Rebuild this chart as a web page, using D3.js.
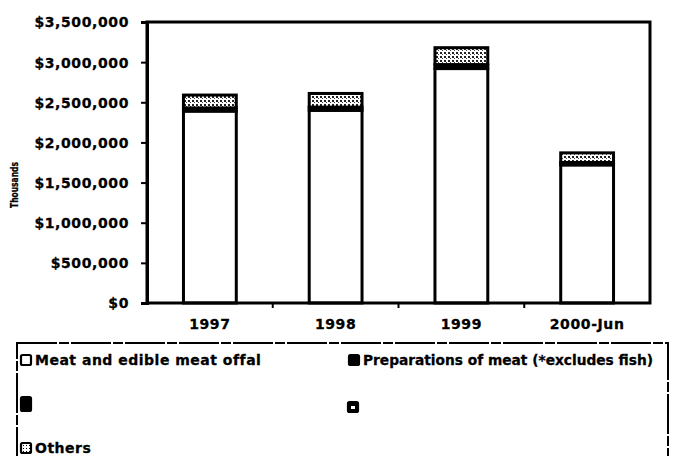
<!DOCTYPE html>
<html>
<head>
<meta charset="utf-8">
<script src="https://cdn.jsdelivr.net/npm/d3@7"></script>
<style>
  body { margin: 0; background: #fff; }
  text { font-family: "DejaVu Sans", sans-serif; font-weight: bold; fill: #000; stroke: #000; stroke-width: 0.3px; }
</style>
</head>
<body>
<div id="chart"></div>
<script>
// chart data
const years = ["1997", "1998", "1999", "2000-Jun"];
const meat = [2390000, 2400000, 2920000, 1720000];
const preparations = [40000, 40000, 50000, 30000];
const others = [160000, 170000, 210000, 120000];
const yTicks = [0, 500000, 1000000, 1500000, 2000000, 2500000, 3000000, 3500000];
const legendLabels = ["Meat and edible meat offal", "Preparations of meat (*excludes fish)", "", "", "Others"];

const svg_width = 673;
const svg_height = 456;

let svg = d3.select("#chart")
  .append("svg")
    .attr("width", svg_width)
    .attr("height", svg_height)

// plot area
const plotLeft = 147, plotRight = 650, plotTop = 22, plotBottom = 303;

const x = d3.scaleBand()
    .domain(years)
    .range([plotLeft, plotRight])
    .paddingInner(0.58)
    .paddingOuter(0.29);

const y = d3.scaleLinear()
    .domain([0, 3500000])
    .range([plotBottom, plotTop]);

// hatch pattern for "Others"
let defs = svg.append("defs");
let pat = defs.append("pattern")
    .attr("id", "hatch")
    .attr("patternUnits", "userSpaceOnUse")
    .attr("width", 4)
    .attr("height", 4);
pat.append("rect").attr("width", 4).attr("height", 4).attr("fill", "#fff");
pat.append("rect").attr("x", 0).attr("y", 0).attr("width", 2).attr("height", 2).attr("fill", "#222");
pat.append("rect").attr("x", 2).attr("y", 2).attr("width", 1).attr("height", 1).attr("fill", "#444");

let pat2 = defs.append("pattern")
    .attr("id", "dotbox")
    .attr("patternUnits", "userSpaceOnUse")
    .attr("width", 3)
    .attr("height", 3);
pat2.append("rect").attr("width", 3).attr("height", 3).attr("fill", "#fff");
pat2.append("rect").attr("width", 1).attr("height", 1).attr("fill", "#000");

// stacked bars
const stack = years.map((yr, i) => {
    const s0 = meat[i], s1 = s0 + preparations[i], s2 = s1 + others[i];
    return [
        {yr: yr, y0: 0, y1: s0, fill: "#fff"},
        {yr: yr, y0: s0, y1: s1, fill: "#000"},
        {yr: yr, y0: s1, y1: s2, fill: "url(#hatch)"}
    ];
}).flat();

svg.append("g")
  .selectAll("rect")
  .data(stack)
  .join("rect")
    .attr("x", d => x(d.yr))
    .attr("width", x.bandwidth())
    .attr("y", d => y(d.y1))
    .attr("height", d => y(d.y0) - y(d.y1))
    .attr("fill", d => d.fill)
    .attr("stroke", "#000")
    .attr("stroke-width", 3)

// plot border
svg.append("rect")
    .attr("x", plotLeft)
    .attr("y", plotTop)
    .attr("width", plotRight - plotLeft)
    .attr("height", plotBottom - plotTop)
    .attr("fill", "none")
    .attr("stroke", "#000")
    .attr("stroke-width", 3)

// y axis
let yAxis = svg.append("g")
    .attr("transform", "translate(" + plotLeft + ",0)")
    .call(d3.axisLeft(y)
        .tickValues(yTicks)
        .tickSize(6)
        .tickPadding(12)
        .tickFormat(d => "$" + d3.format(",")(d)));
yAxis.select(".domain").attr("stroke-width", 3);
yAxis.selectAll(".tick line").attr("stroke-width", 2);
yAxis.selectAll("text")
    .style("font-size", "14px")
    .style("letter-spacing", "0.6px")
    .attr("dy", "0.35em");

// x axis
let xAxis = svg.append("g")
    .attr("transform", "translate(0," + plotBottom + ")")
    .call(d3.axisBottom(x).tickSize(0).tickPadding(16));
xAxis.select(".domain").remove();
xAxis.selectAll("text")
    .style("font-size", "14px")
    .style("letter-spacing", "0.6px");

// category separators below axis
const step = x.step();
svg.append("g")
  .selectAll("line")
  .data(years.slice(1))
  .join("line")
    .attr("x1", d => x(d) - step * x.paddingInner() / 2)
    .attr("x2", d => x(d) - step * x.paddingInner() / 2)
    .attr("y1", plotBottom)
    .attr("y2", plotBottom + 5)
    .attr("stroke", "#000")
    .attr("stroke-width", 2)

// y axis title
svg.append("text")
    .attr("transform", "translate(18,185) rotate(-90)")
    .attr("text-anchor", "middle")
    .style("font-size", "11px")
    .attr("textLength", 46)
    .attr("lengthAdjust", "spacingAndGlyphs")
    .text("Thousands")

// legend box
svg.append("rect")
    .attr("x", 17)
    .attr("y", 343)
    .attr("width", 651)
    .attr("height", 140)
    .attr("fill", "none")
    .attr("stroke", "#000")
    .attr("stroke-width", 2)
    .attr("stroke-dasharray", "40,2,10,2")

const legendPos = [[20, 360], [348, 360], [20, 404], [347, 407], [20, 448]];
const legendFill = ["#fff", "#000", "#000", "#000", "url(#dotbox)"];

let legend = svg.append("g");
legendLabels.forEach((lab, i) => {
    let g = legend.append("g")
        .attr("transform", "translate(" + legendPos[i][0] + "," + legendPos[i][1] + ")");
    g.append("rect")
        .attr("x", 1)
        .attr("y", i == 2 ? -7 : -5)
        .attr("width", 10)
        .attr("height", i == 2 ? 14 : 10)
        .attr("rx", 1.5)
        .attr("fill", legendFill[i])
        .attr("stroke", "#000")
        .attr("stroke-width", 2.2)
    if (i == 3) {
        g.append("rect")
            .attr("x", 4).attr("y", -1).attr("width", 4).attr("height", 3)
            .attr("fill", "#fff")
    }
    if (lab) {
        let t = g.append("text")
            .attr("x", 15)
            .attr("dy", "0.38em")
            .style("font-size", "14px")
            .style("letter-spacing", i == 1 ? "0px" : "0.5px")
            .text(lab)
        // keep the long label inside the box
        if (i == 1) t.attr("textLength", 290).attr("lengthAdjust", "spacingAndGlyphs");
    }
});
</script>
</body>
</html>
